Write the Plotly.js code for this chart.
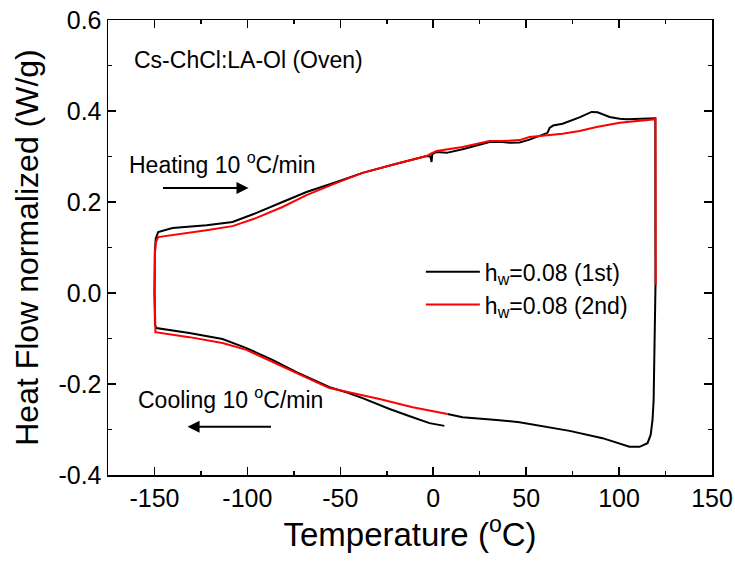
<!DOCTYPE html>
<html>
<head>
<meta charset="utf-8">
<script src="https://cdn.plot.ly/plotly-3.0.1.min.js"></script>
<style>html,body{margin:0;padding:0;background:#fff;}#chart{width:735px;height:562px;}</style>
</head>
<body>
<div id="chart"></div>
<script>
// Run 1 (black): cooling from ~8 °C to -150, heating to 120, cooling back
const run1Temp = [6, -2, -11.1, -23.5, -38, -46.7, -55.8, -61.2, -73.6, -86.5, -100.5, -113.4, -131.2, -149,
  -149.7, -150, -149.8, -149.3, -148, -140.3, -122, -108, -95.1, -81.1, -68.2, -52, -38, -19.8, -3.6, -1.5, -0.9, -0.5,
  1.8, 7.2, 15.8, 30.3, 37.3, 41.1, 46.4, 51.8, 55.6, 61.5, 62.6, 64.5, 69.6, 78.7, 85.2, 88.4, 94.9, 100.3, 104, 118, 119.5,
  119.6, 119.1, 118.6, 118, 117, 115.3, 111, 105.6, 97.6, 91.1, 73.4, 55.6, 46.4, 34.1, 15.8, 7.7];
const run1Flow = [-0.292, -0.286, -0.273, -0.255, -0.231, -0.218, -0.207, -0.197, -0.174, -0.147, -0.121, -0.101, -0.088, -0.077,
  -0.07, 0.0, 0.09, 0.12, 0.134, 0.143, 0.149, 0.156, 0.176, 0.2, 0.222, 0.244, 0.264, 0.284, 0.301, 0.300, 0.288, 0.305,
  0.310, 0.308, 0.316, 0.332, 0.332, 0.330, 0.331, 0.337, 0.343, 0.352, 0.363, 0.368, 0.372, 0.386, 0.398, 0.397, 0.387, 0.383, 0.382, 0.383, 0.384,
  0.018, -0.147, -0.235, -0.279, -0.312, -0.330, -0.338, -0.338, -0.327, -0.319, -0.303, -0.290, -0.284, -0.279, -0.273, -0.266];

// Run 2 (red)
const run2Temp = [7.7, -11.1, -28.9, -46.7, -55.8, -61.2, -73.6, -86.5, -100.5, -113.4, -131.2, -149.5,
  -149.9, -149.7, -149.2, -148, -140.3, -122, -108, -95.1, -81.1, -68.2, -52, -38, -19.8, -3.6, -1.0, 1.8, 15.8, 30.3, 37.3,
  46.4, 51.8, 62.6, 69.6, 78.7, 87.9, 100.3, 118, 119.6, 119.7];
const run2Flow = [-0.266, -0.251, -0.233, -0.217, -0.209, -0.199, -0.176, -0.152, -0.125, -0.110, -0.097, -0.086,
  0.0, 0.09, 0.112, 0.123, 0.127, 0.138, 0.147, 0.165, 0.189, 0.215, 0.242, 0.264, 0.284, 0.301, 0.307, 0.312, 0.321, 0.334, 0.334,
  0.336, 0.343, 0.347, 0.350, 0.356, 0.365, 0.374, 0.382, 0.382, 0.018];

const seriesNames = ['h<sub>w</sub>=0.08 (1st)', 'h<sub>w</sub>=0.08 (2nd)'];
const xTickVals = [-150, -100, -50, 0, 50, 100, 150];
const xTickText = ['-150', '-100', '-50', '0', '50', '100', '150'];
const yTickVals = [-0.4, -0.2, 0.0, 0.2, 0.4, 0.6];
const yTickText = ['-0.4', '-0.2', '0.0', '0.2', '0.4', '0.6'];

const FONT = 'Arial, "Liberation Sans", sans-serif';

const traces = [
  {x: run1Temp, y: run1Flow, name: seriesNames[0], type: 'scatter', mode: 'lines',
   line: {color: '#000000', width: 2}},
  {x: run2Temp, y: run2Flow, name: seriesNames[1], type: 'scatter', mode: 'lines',
   line: {color: '#ff0000', width: 2}}
];

const axisCommon = {
  showgrid: false, zeroline: false, showline: true, linecolor: '#000', linewidth: 1.5,
  mirror: 'allticks', ticks: 'inside', ticklen: 8, tickwidth: 1.5, tickcolor: '#000',
  tickfont: {family: FONT, size: 25, color: '#000'}
};

const layout = {
  width: 735, height: 562,
  margin: {l: 108, r: 23, t: 20, b: 87},
  paper_bgcolor: '#fff', plot_bgcolor: '#fff',
  font: {family: FONT, color: '#000'},
  xaxis: Object.assign({}, axisCommon, {
    range: [-175, 150], tickvals: xTickVals, ticktext: xTickText,
    minor: {dtick: 25, ticks: 'inside', ticklen: 4, tickwidth: 1.5, tickcolor: '#000'},
    title: {text: 'Temperature (<sup>o</sup>C)', font: {family: FONT, size: 33, color: '#000'}, standoff: 10}
  }),
  yaxis: Object.assign({}, axisCommon, {
    range: [-0.4, 0.6], tickvals: yTickVals, ticktext: yTickText,
    minor: {dtick: 0.1, ticks: 'inside', ticklen: 4, tickwidth: 1.5, tickcolor: '#000'},
    title: {text: 'Heat Flow normalized (W/g)', font: {family: FONT, size: 32, color: '#000'}, standoff: 10}
  }),
  showlegend: true,
  legend: {x: 0.518, y: 0.494, xanchor: 'left', yanchor: 'top', bgcolor: 'rgba(0,0,0,0)',
    font: {family: FONT, size: 23, color: '#000'}, tracegroupgap: 0, itemwidth: 54},
  annotations: [
    {xref: 'paper', yref: 'paper', x: 0.04, y: 0.912, xanchor: 'left', yanchor: 'middle', showarrow: false,
     text: 'Cs-ChCl:LA-Ol (Oven)', font: {family: FONT, size: 23, color: '#000'}},
    {xref: 'paper', yref: 'paper', x: 0.031, y: 0.686, xanchor: 'left', yanchor: 'middle', showarrow: false,
     text: 'Heating 10 <sup>o</sup>C/min', font: {family: FONT, size: 23, color: '#000'}},
    {xref: 'paper', yref: 'paper', x: 0.046, y: 0.17, xanchor: 'left', yanchor: 'middle', showarrow: false,
     text: 'Cooling 10 <sup>o</sup>C/min', font: {family: FONT, size: 23, color: '#000'}},
    {xref: 'x', yref: 'y', axref: 'x', ayref: 'y', x: -99.4, y: 0.231, ax: -146.2, ay: 0.231,
     text: '', showarrow: true, arrowhead: 2, arrowsize: 1.2, arrowwidth: 2, arrowcolor: '#000'},
    {xref: 'x', yref: 'y', axref: 'x', ayref: 'y', x: -132.2, y: -0.294, ax: -86.5, ay: -0.294,
     text: '', showarrow: true, arrowhead: 2, arrowsize: 1.2, arrowwidth: 2, arrowcolor: '#000'}
  ]
};

Plotly.newPlot('chart', traces, layout, {displayModeBar: false, staticPlot: true});
</script>
</body>
</html>
